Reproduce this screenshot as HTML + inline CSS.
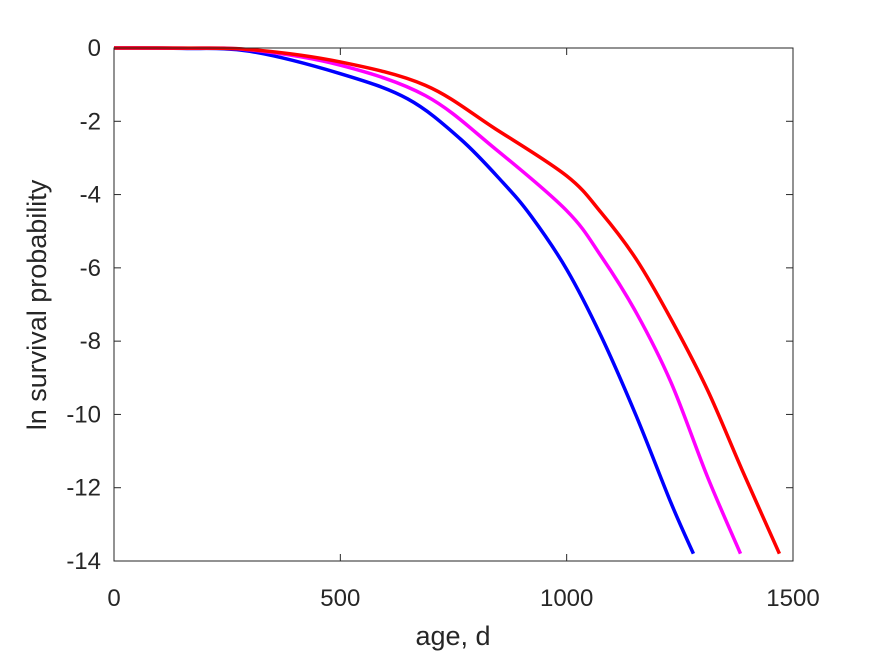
<!DOCTYPE html>
<html><head><meta charset="utf-8"><style>
body{margin:0;background:#fff}
svg text{font-family:"Liberation Sans",Arial,sans-serif;fill:#262626}
</style></head><body>
<svg id="chart" width="875" height="656" xmlns="http://www.w3.org/2000/svg">
<rect width="875" height="656" fill="#fff"/>
<g id="plot"></g>
</svg>
<script>
const xTicks=[0,500,1000,1500];
const yTicks=[0,-2,-4,-6,-8,-10,-12,-14];
const blueAge=[0,150,300,500,649,765,859,921,1000,1076,1154,1231,1280];
const blueVal=[0,-0.01,-0.09,-0.70,-1.39,-2.48,-3.67,-4.58,-6.04,-7.86,-10.05,-12.43,-13.8];
const magentaAge=[0,150,300,500,688,843,1000,1076,1154,1231,1311,1384];
const magentaVal=[0,-0.005,-0.05,-0.47,-1.30,-2.76,-4.44,-5.68,-7.23,-9.14,-11.7,-13.8];
const redAge=[0,150,300,500,688,843,1000,1076,1154,1231,1311,1387,1470];
const redVal=[0,-0.004,-0.04,-0.38,-1.02,-2.21,-3.49,-4.49,-5.77,-7.41,-9.33,-11.5,-13.8];
const L=114,R=793,T=48,B=561;
const sx=v=>L+(v-0)/(1500)*(R-L);
const sy=v=>T+(0-v)/14*(B-T);
const ns="http://www.w3.org/2000/svg";
const g=document.getElementById('plot');
function mk(t,a,parent){const e=document.createElementNS(ns,t);for(const k in a)e.setAttribute(k,a[k]);(parent||g).appendChild(e);return e;}
function curve(xs,ys,color,name){
  const p=xs.map((x,i)=>[sx(x),sy(ys[i])]);
  let d=`M${p[0][0]},${p[0][1]}`;
  for(let i=0;i<p.length-1;i++){
    const p0=p[Math.max(0,i-1)],p1=p[i],p2=p[i+1],p3=p[Math.min(p.length-1,i+2)];
    const c1=[p1[0]+(p2[0]-p0[0])/6,p1[1]+(p2[1]-p0[1])/6];
    const c2=[p2[0]-(p3[0]-p1[0])/6,p2[1]-(p3[1]-p1[1])/6];
    d+=` C${c1[0]},${c1[1]} ${c2[0]},${c2[1]} ${p2[0]},${p2[1]}`;
  }
  const e=mk('path',{d:d,fill:'none',stroke:color,'stroke-width':3.5});
  
  
}
curve(blueAge,blueVal,'#0000ff','series-blue');
curve(magentaAge,magentaVal,'#ff00ff','series-magenta');
curve(redAge,redVal,'#ff0000','series-red');
const box=mk('rect',{x:L,y:T,width:R-L,height:B-T,fill:'none',stroke:'#262626','stroke-width':1});


xTicks.forEach(v=>{
  const x=sx(v);
  mk('line',{x1:x,y1:B,x2:x,y2:B-7,stroke:'#262626'});
  mk('line',{x1:x,y1:T,x2:x,y2:T+7,stroke:'#262626'});
  const t=mk('text',{x:x,y:606,'text-anchor':'middle','font-size':24});
  t.textContent=v;
  
  
});
yTicks.forEach(v=>{
  const y=sy(v);
  mk('line',{x1:L,y1:y,x2:L+7,y2:y,stroke:'#262626'});
  mk('line',{x1:R,y1:y,x2:R-7,y2:y,stroke:'#262626'});
  const t=mk('text',{x:101,y:y+8,'text-anchor':'end','font-size':24});
  t.textContent=v;
  
  
});
const xl=mk('text',{x:453,y:645,'text-anchor':'middle','font-size':27});
xl.textContent='age, d';


const yl=mk('text',{x:0,y:0,'text-anchor':'middle','font-size':27,transform:'translate(46,305) rotate(-90)'});
yl.textContent='ln survival probability';


</script>
</body></html>
